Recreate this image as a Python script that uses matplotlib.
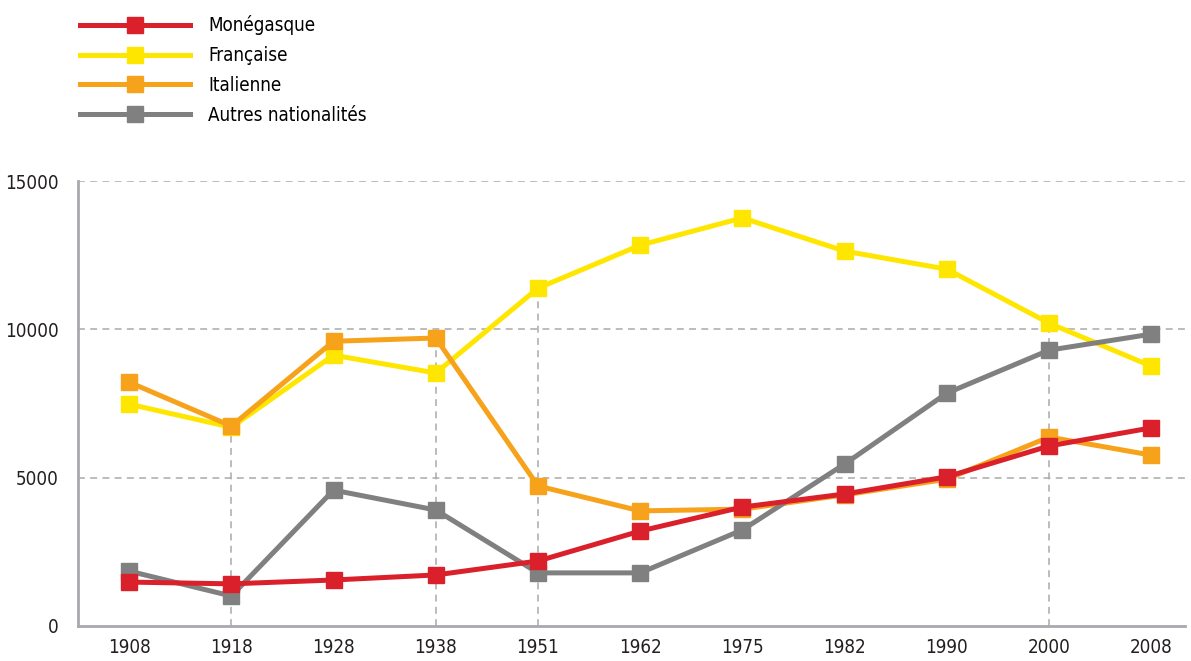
import matplotlib
matplotlib.use("Agg")
import matplotlib.pyplot as plt
import numpy as np

years = ['1908', '1918', '1928', '1938', '1951', '1962', '1975', '1982', '1990', '2000', '2008']
monegasque = [1480, 1420, 1550, 1720, 2190, 3200, 4010, 4450, 5030, 6070, 6680]
francaise = [7480, 6700, 9130, 8530, 11390, 12840, 13760, 12640, 12030, 10210, 8760]
italienne = [8220, 6740, 9600, 9710, 4720, 3880, 3940, 4420, 4950, 6370, 5760]
autres = [1850, 1010, 4580, 3910, 1790, 1790, 3240, 5460, 7850, 9300, 9840]
guide_years = ['1918', '1938', '1951', '2000']
yticks = [0, 5000, 10000, 15000]

plt.rcParams['font.family'] = ['DejaVu Sans']
plt.rcParams['font.stretch'] = 'condensed'

fig = plt.figure(figsize=(11.91, 6.61), dpi=100)
ax = fig.add_axes([0.0655, 0.053, 0.9295, 0.673])

x = np.arange(len(years))
grid_col = '#aaaaaa'

# dashed grid + vertical guides up to the highest point of the year
for y in yticks[1:]:
    ax.axhline(y, color=grid_col, lw=1.1, ls=(0, (4.5, 3.5)), zorder=0)

allv = np.array([monegasque, francaise, italienne, autres])
gi = [years.index(g) for g in guide_years]
ax.vlines(gi, 0, allv[:, gi].max(axis=0), color=grid_col, lw=1.1, ls=(0, (4.5, 3.5)), zorder=0)

series = [
    ('Française', francaise, '#ffe600'),
    ('Italienne', italienne, '#f7a21b'),
    ('Autres nationalités', autres, '#808080'),
    ('Monégasque', monegasque, '#da202a'),
]
handles = {}
for name, vals, col in series:
    h, = ax.plot(x, vals, color=col, lw=3.6, marker='s', ms=11.5, mec=col, mfc=col,
                 label=name, zorder=3, solid_joinstyle='miter')
    handles[name] = h

ax.set_xlim(-0.5, 10.33)
ax.set_ylim(0, 15000)
ax.set_xticks(x)
ax.set_xticklabels(years)
ax.set_yticks(yticks)
ax.tick_params(length=0, labelsize=13.5, colors='#231f20')
ax.tick_params(axis='x', pad=9)
ax.tick_params(axis='y', pad=14)

for s in ['top', 'right']:
    ax.spines[s].set_visible(False)
for s in ['left', 'bottom']:
    ax.spines[s].set_color('#a7a9ac')
    ax.spines[s].set_linewidth(2)

order = ['Monégasque', 'Française', 'Italienne', 'Autres nationalités']
fig.legend([handles[n] for n in order], order, loc='upper left',
           bbox_to_anchor=(0.067, 0.977), frameon=False, fontsize=13.5,
           handlelength=5.9, handletextpad=0.95, labelspacing=0.58, borderpad=0,
           borderaxespad=0)

fig.savefig('out.png', dpi=100)
